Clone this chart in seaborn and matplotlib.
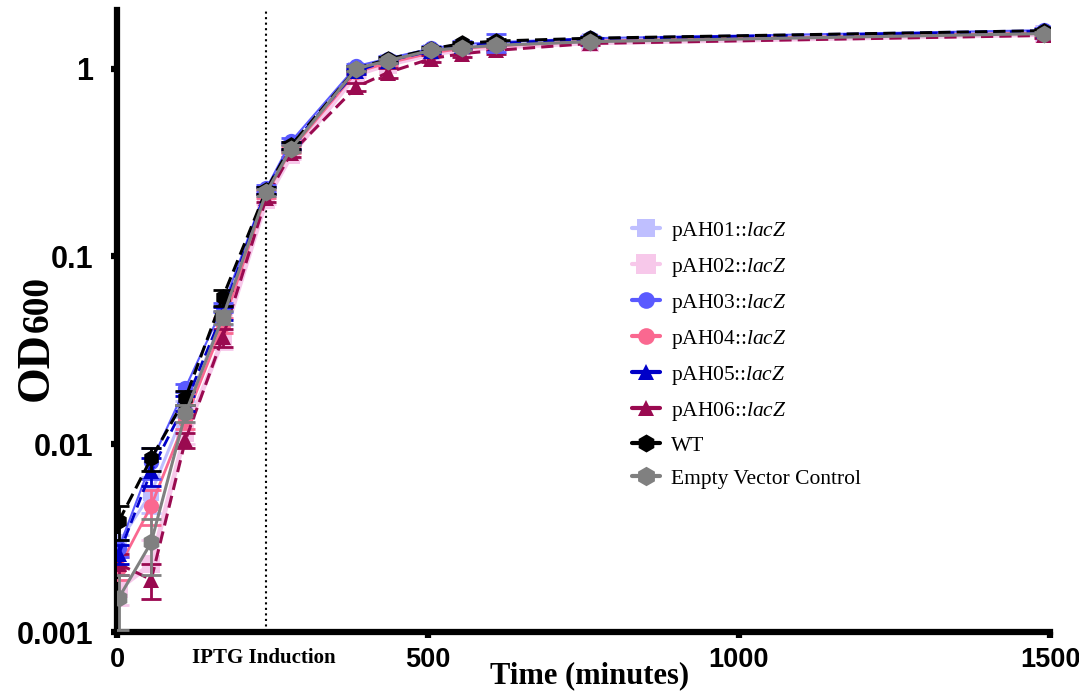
import numpy as np
import pandas as pd
import matplotlib
matplotlib.use("Agg")
import matplotlib.pyplot as plt
import seaborn as sns
from matplotlib.lines import Line2D

# ---------------- data ----------------
time = [3, 55, 110, 170, 240, 280, 385, 435, 505, 555, 610, 760, 1490]

series_names = ["pAH01", "pAH02", "pAH03", "pAH04", "pAH05", "pAH06", "WT", "EV"]
legend_labels = [r"pAH01::$\it{lacZ}$", r"pAH02::$\it{lacZ}$", r"pAH03::$\it{lacZ}$",
                 r"pAH04::$\it{lacZ}$", r"pAH05::$\it{lacZ}$", r"pAH06::$\it{lacZ}$",
                 "WT", "Empty Vector Control"]

pAH01 = [0.0030, 0.0055, 0.0155, 0.047, 0.220, 0.380, 0.98, 1.08, 1.22, 1.30, 1.33, 1.40, 1.55]
pAH02 = [0.0017, 0.0023, 0.0115, 0.036, 0.200, 0.345, 0.93, 1.05, 1.19, 1.26, 1.30, 1.37, 1.52]
pAH03 = [0.0028, 0.0080, 0.0200, 0.0535, 0.230, 0.410, 1.03, 1.13, 1.28, 1.35, 1.38, 1.45, 1.60]
pAH04 = [0.0022, 0.0047, 0.0135, 0.043, 0.215, 0.370, 0.96, 1.07, 1.21, 1.28, 1.32, 1.40, 1.55]
pAH05 = [0.0026, 0.0072, 0.0165, 0.050, 0.225, 0.390, 0.97, 1.10, 1.24, 1.32, 1.36, 1.44, 1.58]
pAH06 = [0.0023, 0.0019, 0.0105, 0.037, 0.205, 0.355, 0.80, 0.95, 1.13, 1.20, 1.25, 1.36, 1.50]
WT    = [0.0039, 0.0084, 0.0176, 0.0605, 0.225, 0.390, 1.00, 1.12, 1.27, 1.36, 1.40, 1.45, 1.59]
EV    = [0.00152, 0.0030, 0.0146, 0.0474, 0.219, 0.375, 1.00, 1.10, 1.25, 1.29, 1.33, 1.39, 1.535]

err_pAH01 = [0.0003, 0.0012, 0.0015, 0.004, 0.010, 0.015, 0.03, 0.03, 0.03, 0.03, 0.03, 0.03, 0.03]
err_pAH02 = [0.0003, 0.0008, 0.0015, 0.004, 0.010, 0.015, 0.03, 0.03, 0.03, 0.03, 0.03, 0.03, 0.03]
err_pAH03 = [0.0003, 0.0015, 0.0010, 0.003, 0.010, 0.015, 0.03, 0.03, 0.04, 0.05, 0.15, 0.04, 0.04]
err_pAH04 = [0.0003, 0.0010, 0.0015, 0.004, 0.010, 0.015, 0.03, 0.03, 0.03, 0.03, 0.03, 0.03, 0.03]
err_pAH05 = [0.0003, 0.0012, 0.0015, 0.004, 0.010, 0.015, 0.03, 0.03, 0.03, 0.03, 0.03, 0.03, 0.03]
err_pAH06 = [0.0003, 0.0004, 0.0010, 0.004, 0.010, 0.015, 0.04, 0.06, 0.05, 0.05, 0.05, 0.03, 0.05]
err_WT    = [0.0008, 0.0012, 0.0015, 0.006, 0.010, 0.015, 0.03, 0.03, 0.03, 0.03, 0.03, 0.03, 0.04]
err_EV    = [0.0005, 0.0010, 0.0015, 0.004, 0.010, 0.015, 0.03, 0.03, 0.03, 0.03, 0.03, 0.03, 0.03]

y_ticks = [0.001, 0.01, 0.1, 1]
y_ticklabels = ["0.001", "0.01", "0.1", "1"]
x_ticks = [0, 500, 1000, 1500]
x_ticklabels = ["0", "500", "1000", "1500"]
induction_time = 240

values = dict(pAH01=pAH01, pAH02=pAH02, pAH03=pAH03, pAH04=pAH04,
              pAH05=pAH05, pAH06=pAH06, WT=WT, EV=EV)
errors = dict(pAH01=err_pAH01, pAH02=err_pAH02, pAH03=err_pAH03, pAH04=err_pAH04,
              pAH05=err_pAH05, pAH06=err_pAH06, WT=err_WT, EV=err_EV)

# ---------------- styles ----------------
colors = dict(pAH01="#BFBFFF", pAH02="#F7C8EA", pAH03="#5A5AFF", pAH04="#FA6890",
              pAH05="#0000C8", pAH06="#9A0A50", WT="#000000", EV="#808080")
markers = dict(pAH01="s", pAH02="s", pAH03="o", pAH04="o",
               pAH05="^", pAH06="^", WT="h", EV="h")
msizes = dict(pAH01=12, pAH02=13, pAH03=11, pAH04=11, pAH05=11, pAH06=11, WT=12, EV=13)
lstyles = dict(pAH01="-", pAH02="-", pAH03="-", pAH04="-",
               pAH05=(0, (4, 2)), pAH06=(0, (4, 2)), WT=(0, (4, 2)), EV="-")
lwidths = dict(pAH01=2.2, pAH02=3.5, pAH03=1.5, pAH04=2.0, pAH05=2.0, pAH06=2.2, WT=2.2, EV=2.2)
draw_order = ["pAH02", "pAH01", "pAH04", "pAH06", "pAH03", "pAH05", "WT", "EV"]

sns.set_style("ticks")
plt.rcParams["font.family"] = ["Liberation Sans", "DejaVu Sans"]
plt.rcParams["mathtext.fontset"] = "custom"
plt.rcParams["mathtext.rm"] = "Liberation Serif"
plt.rcParams["mathtext.it"] = "Liberation Serif:italic"
plt.rcParams["mathtext.bf"] = "Liberation Serif:bold"
for key in ["axes.edgecolor", "text.color", "axes.labelcolor", "xtick.color", "ytick.color"]:
    plt.rcParams[key] = "black"

W, H = 1079, 693
fig = plt.figure(figsize=(W / 100, H / 100), dpi=100)
ax_left, ax_right, ax_top, ax_bottom = 117, 1050, 10, 632
ax = fig.add_axes([ax_left / W, 1 - ax_bottom / H, (ax_right - ax_left) / W, (ax_bottom - ax_top) / H])

df = pd.DataFrame({"time": time})
for k, name in enumerate(draw_order):
    df[name] = values[name]
    ax.errorbar(time, values[name], yerr=errors[name], fmt="none", ecolor=colors[name],
                elinewidth=2, capsize=7, capthick=2, zorder=2 + k)
    sns.lineplot(data=df, x="time", y=name, ax=ax, color=colors[name],
                 marker=markers[name], markersize=msizes[name], markeredgewidth=0,
                 linestyle=lstyles[name], linewidth=lwidths[name], zorder=2.5 + k)

ax.set_yscale("log")
ax.set_ylim(0.001, 2.05)
ax.set_xlim(0, 1500)
ax.axvline(induction_time, color="black", linestyle=":", linewidth=1.5, zorder=1)

ax.set_yticks(y_ticks)
ax.set_yticklabels(y_ticklabels)
ax.yaxis.set_minor_locator(matplotlib.ticker.NullLocator())
ax.set_xticks(x_ticks)
ax.set_xticklabels(x_ticklabels)

for lab in ax.get_yticklabels():
    lab.set_fontweight("bold")
    lab.set_fontsize(22)
for lab in ax.get_xticklabels():
    lab.set_fontweight("bold")
    lab.set_fontsize(19.5)

sns.despine(ax=ax)
for side in ["left", "bottom"]:
    ax.spines[side].set_linewidth(4.5)
ax.tick_params(axis="both", which="major", direction="out", length=4, width=4.5, color="black")
ax.tick_params(axis="y", pad=13)
ax.tick_params(axis="x", pad=7)

ax.set_xlabel("Time (minutes)", fontsize=22, fontweight="bold", family="Liberation Serif")
ax.xaxis.label.set_va("center")
ax.xaxis.set_label_coords(0.506, -(676 - ax_bottom) / (ax_bottom - ax_top))
ax.set_ylabel("")

ax.text(induction_time - 4, -0.042, "IPTG Induction",
        transform=ax.get_xaxis_transform(), ha="center", va="center",
        fontsize=15, fontweight="bold", family="Liberation Serif")

# y label: OD + smaller 600 on same baseline
base_x = 48 / W
t1 = fig.text(base_x, 1 - 401 / H, "OD", rotation=90, rotation_mode="anchor",
              ha="left", va="baseline", fontsize=33, fontweight="bold", family="Liberation Serif")
fig.canvas.draw()
bb = t1.get_window_extent(fig.canvas.get_renderer())
fig.text(base_x, 1 - 401 / H + bb.height / H, "600", rotation=90, rotation_mode="anchor",
         ha="left", va="baseline", fontsize=27, fontweight="bold", family="Liberation Serif")

# legend
handles = []
for name in series_names:
    handles.append(Line2D([0], [0], color=colors[name], marker=markers[name],
                          markersize=msizes[name] + 1, markeredgewidth=0,
                          linewidth=3, linestyle="-"))
leg = fig.legend(handles, legend_labels, loc="upper left",
                 bbox_to_anchor=(632 / W, 1 - 220 / H), frameon=False,
                 prop={"family": "Liberation Serif", "size": 15.5},
                 handlelength=1.3, handletextpad=0.5, labelspacing=0.6,
                 borderpad=0, borderaxespad=0)

fig.savefig("out.png", dpi=100)
